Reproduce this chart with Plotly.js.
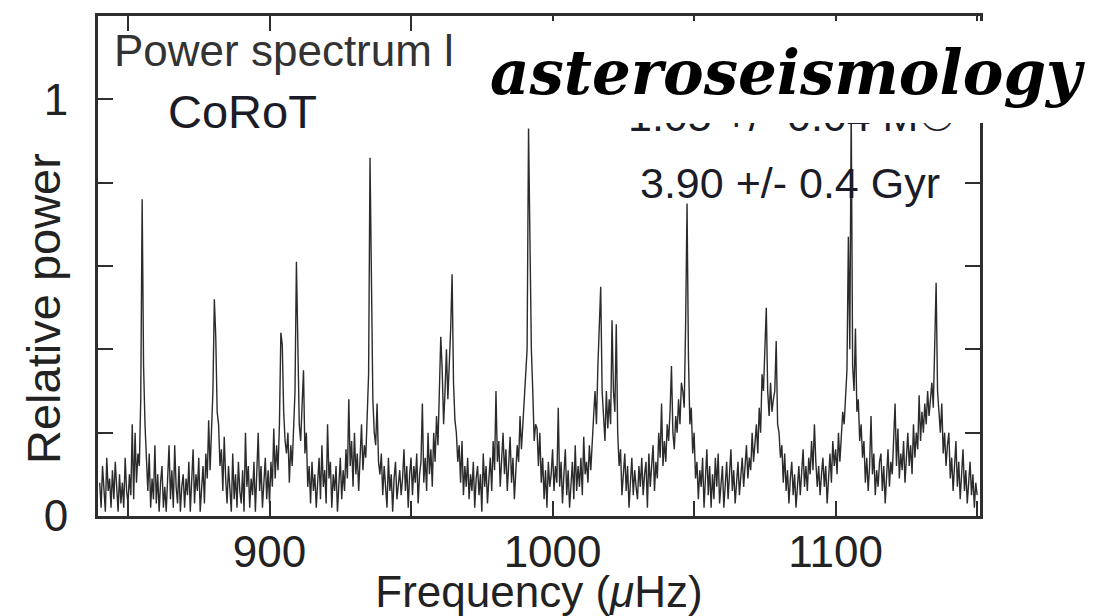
<!DOCTYPE html>
<html>
<head>
<meta charset="utf-8">
<script src="https://cdn.plot.ly/plotly-3.0.1.min.js"></script>
<style>html,body{margin:0;padding:0;background:#fff;}#chart{width:1108px;height:616px;}</style>
</head>
<body>
<div id="chart"></div>
<script>
// Frequency grid of the spectrum (µHz): start and step
const freqStart = 840;
const freqStep = 0.5;

// Relative power, one value every 0.5 µHz from 840 to 1150 µHz
const power = [
// 840
0.08,0.02,0.12,0.05,0.01,0.14,0.06,0.09,0.02,0.11,0.04,0.13,0.07,0.01,0.10,0.03,0.08,0.02,0.14,0.06,
// 850
0.03,0.10,0.05,0.22,0.04,0.20,0.08,0.15,0.12,0.28,0.76,0.36,0.22,0.13,0.06,0.15,0.02,0.09,0.04,0.17,
// 860
0.03,0.10,0.01,0.08,0.12,0.02,0.07,0.01,0.09,0.17,0.04,0.11,0.02,0.17,0.07,0.03,0.12,0.01,0.07,0.10,
// 870
0.02,0.09,0.05,0.13,0.01,0.08,0.16,0.03,0.10,0.06,0.14,0.01,0.08,0.12,0.03,0.15,0.09,0.23,0.11,0.20,
// 880
0.30,0.52,0.43,0.25,0.22,0.12,0.16,0.06,0.19,0.09,0.03,0.12,0.07,0.01,0.15,0.04,0.10,0.02,0.13,0.06,
// 890
0.03,0.11,0.01,0.20,0.07,0.12,0.02,0.09,0.05,0.13,0.01,0.10,0.20,0.06,0.12,0.02,0.09,0.14,0.04,0.11,
// 900
0.03,0.13,0.07,0.21,0.09,0.17,0.11,0.22,0.44,0.41,0.25,0.18,0.15,0.20,0.08,0.17,0.12,0.24,0.30,0.61,
// 910
0.40,0.22,0.18,0.26,0.35,0.15,0.20,0.07,0.12,0.03,0.13,0.06,0.10,0.02,0.09,0.14,0.04,0.17,0.07,0.11,
// 920
0.03,0.22,0.09,0.13,0.02,0.10,0.06,0.12,0.01,0.08,0.14,0.04,0.11,0.06,0.16,0.09,0.28,0.12,0.18,0.07,
// 930
0.20,0.10,0.15,0.06,0.13,0.22,0.11,0.17,0.14,0.24,0.34,0.86,0.55,0.28,0.20,0.17,0.27,0.13,0.10,0.15,
// 940
0.05,0.12,0.07,0.02,0.14,0.06,0.10,0.01,0.09,0.13,0.04,0.08,0.11,0.05,0.09,0.16,0.06,0.12,0.02,0.10,
// 950
0.14,0.05,0.12,0.08,0.15,0.03,0.10,0.13,0.27,0.08,0.14,0.06,0.20,0.10,0.16,0.07,0.20,0.13,0.24,0.17,
// 960
0.29,0.43,0.35,0.22,0.30,0.40,0.28,0.36,0.45,0.58,0.32,0.23,0.20,0.13,0.17,0.08,0.18,0.05,0.12,0.07,
// 970
0.14,0.04,0.10,0.06,0.13,0.02,0.09,0.12,0.05,0.10,0.01,0.15,0.07,0.12,0.03,0.09,0.14,0.06,0.18,0.11,
// 980
0.30,0.13,0.18,0.07,0.15,0.20,0.10,0.16,0.06,0.12,0.19,0.08,0.14,0.04,0.11,0.17,0.13,0.24,0.16,0.22,
// 990
0.26,0.31,0.40,0.93,0.61,0.40,0.30,0.18,0.22,0.21,0.12,0.20,0.08,0.14,0.04,0.11,0.02,0.13,0.07,0.10,
// 1000
0.16,0.06,0.12,0.08,0.26,0.07,0.13,0.03,0.10,0.16,0.05,0.11,0.02,0.09,0.13,0.04,0.17,0.06,0.12,0.07,
// 1010
0.14,0.05,0.19,0.10,0.13,0.08,0.17,0.11,0.19,0.24,0.30,0.22,0.36,0.45,0.55,0.30,0.25,0.18,0.30,0.21,
// 1020
0.28,0.22,0.47,0.30,0.25,0.46,0.20,0.12,0.16,0.05,0.10,0.15,0.06,0.12,0.02,0.09,0.14,0.05,0.11,0.07,
// 1030
0.04,0.12,0.07,0.14,0.05,0.10,0.13,0.02,0.15,0.07,0.11,0.17,0.06,0.13,0.09,0.20,0.14,0.27,0.12,0.18,
// 1040
0.13,0.22,0.18,0.25,0.36,0.20,0.16,0.24,0.20,0.28,0.22,0.32,0.30,0.26,0.46,0.75,0.38,0.22,0.26,0.15,
// 1050
0.20,0.09,0.13,0.04,0.11,0.07,0.14,0.02,0.09,0.16,0.05,0.12,0.02,0.10,0.04,0.14,0.07,0.15,0.03,0.09,
// 1060
0.12,0.02,0.08,0.13,0.04,0.10,0.16,0.06,0.11,0.03,0.09,0.13,0.05,0.10,0.14,0.07,0.12,0.17,0.09,0.14,
// 1070
0.11,0.20,0.13,0.18,0.22,0.15,0.26,0.20,0.34,0.30,0.38,0.50,0.30,0.24,0.32,0.25,0.28,0.30,0.42,0.22,
// 1080
0.20,0.14,0.17,0.08,0.15,0.06,0.11,0.03,0.09,0.13,0.05,0.10,0.02,0.08,0.12,0.05,0.10,0.16,0.07,0.12,
// 1090
0.06,0.14,0.10,0.18,0.11,0.22,0.13,0.07,0.12,0.05,0.10,0.14,0.07,0.12,0.03,0.10,0.15,0.08,0.18,0.12,
// 1100
0.16,0.10,0.20,0.13,0.18,0.25,0.22,0.30,0.35,0.67,0.40,0.98,0.36,0.30,0.45,0.25,0.28,0.18,0.22,0.14,
// 1110
0.18,0.08,0.14,0.06,0.12,0.24,0.10,0.15,0.05,0.11,0.07,0.13,0.15,0.06,0.12,0.03,0.10,0.16,0.07,0.13,
// 1120
0.10,0.17,0.27,0.12,0.21,0.09,0.15,0.11,0.18,0.08,0.14,0.20,0.12,0.17,0.10,0.22,0.14,0.20,0.16,0.29,
// 1130
0.18,0.25,0.20,0.27,0.22,0.30,0.24,0.28,0.32,0.26,0.42,0.56,0.30,0.24,0.20,0.27,0.15,0.20,0.12,0.17,
// 1140
0.20,0.09,0.14,0.06,0.12,0.18,0.07,0.13,0.04,0.10,0.16,0.06,0.11,0.03,0.09,0.13,0.05,0.10,0.02,0.08,
// 1150
0.05
];

// Tick positions and labels
const xTickVals = [850, 900, 950, 1000, 1050, 1100, 1150];
const xTickText = ['', '900', '', '1000', '', '1100', ''];
const yTickVals = [0, 0.2, 0.4, 0.6, 0.8, 1.0];
const yTickText = ['0', '', '', '', '', '1'];

// Texts
const titleText = 'asteroseismology';
const panelLabel = 'Power spectrum l';
const missionLabel = 'CoRoT';
const massLabel = '1.05 +/- 0.04 M\u2609';
const ageLabel = '3.90 +/- 0.4 Gyr';
const xTitle = 'Frequency (<i>\u03bc</i>Hz)';
const yTitle = 'Relative power';

const sans = 'Liberation Sans, Arial, Helvetica, sans-serif';

const trace = {
  type: 'scatter',
  mode: 'lines',
  x0: freqStart,
  dx: freqStep,
  y: power,
  line: { color: '#2b2b2b', width: 1.4 },
  hoverinfo: 'skip',
  showlegend: false
};

const axisCommon = {
  showline: true,
  mirror: 'ticks',
  linecolor: '#2e2e2e',
  linewidth: 3,
  ticks: 'inside',
  ticklen: 15,
  tickwidth: 2,
  tickcolor: '#2e2e2e',
  showgrid: false,
  zeroline: false,
  tickfont: { family: sans, size: 44, color: '#222' },
  fixedrange: true
};

const layout = {
  width: 1108,
  height: 616,
  margin: { l: 98, r: 128, t: 16, b: 100, pad: 0 },
  paper_bgcolor: '#ffffff',
  plot_bgcolor: '#ffffff',
  font: { family: sans, color: '#222' },
  xaxis: Object.assign({}, axisCommon, {
    range: [839.4, 1151],
    tickmode: 'array',
    tickvals: xTickVals,
    ticktext: xTickText,
    ticklabelstandoff: -5,
    title: { text: xTitle, font: { family: sans, size: 44, color: '#222' }, standoff: 8 }
  }),
  yaxis: Object.assign({}, axisCommon, {
    range: [0, 1.2],
    tickmode: 'array',
    tickvals: yTickVals,
    ticktext: yTickText,
    ticklabelstandoff: 18
  }),
  annotations: [
    { xref: 'x', yref: 'y', x: 844.3, y: 1.118, xanchor: 'left', yanchor: 'middle', showarrow: false,
      text: panelLabel, font: { family: sans, size: 44, color: '#333' } },
    { xref: 'x', yref: 'y', x: 863.5, y: 0.972, xanchor: 'left', yanchor: 'middle', showarrow: false,
      text: missionLabel, font: { family: sans, size: 47, color: '#1c1c28' } },
    { xref: 'x', yref: 'y', x: 1143.5, y: 0.96, xanchor: 'right', yanchor: 'middle', showarrow: false,
      text: massLabel, font: { family: sans, size: 43, color: '#1c1c28' } },
    { xref: 'x', yref: 'y', x: 1137.6, y: 0.80, xanchor: 'right', yanchor: 'middle', showarrow: false,
      text: ageLabel, font: { family: sans, size: 43, color: '#1c1c28' } },
    { xref: 'paper', yref: 'paper', x: 0.7817, y: 0.888, xanchor: 'center', yanchor: 'middle', showarrow: false,
      width: 625, height: 102, bgcolor: '#ffffff', borderpad: 0, borderwidth: 0, valign: 'middle', align: 'center',
      text: titleText, font: { family: 'DejaVu Serif, Georgia, serif', size: 61, color: '#000', weight: 'bold', style: 'italic' } },
    { xref: 'paper', yref: 'paper', x: -0.0624, y: 0.416, xanchor: 'center', yanchor: 'middle', showarrow: false,
      textangle: -90, text: yTitle, font: { family: sans, size: 47, color: '#222' } }
  ]
};

Plotly.newPlot('chart', [trace], layout, { staticPlot: true, displayModeBar: false });
</script>
</body>
</html>
